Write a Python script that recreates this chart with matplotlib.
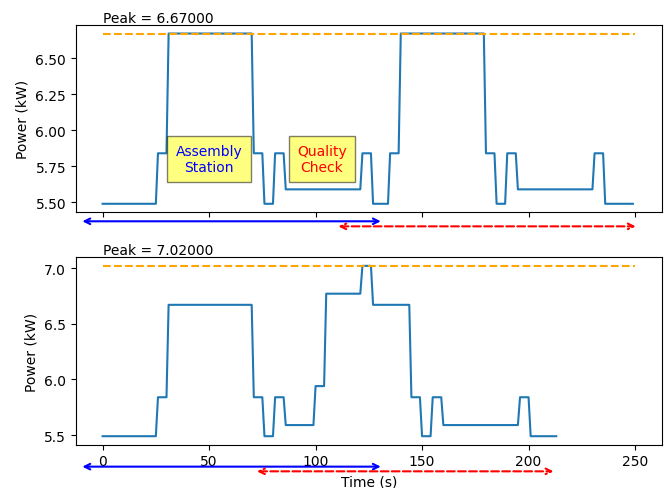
import matplotlib
matplotlib.use("Agg")
import matplotlib.pyplot as plt
import matplotlib.transforms as mtransforms

# line 1 breakpoints (time s, power kW)
top_t = [0, 25, 26, 30, 31, 70, 71, 75, 76, 80, 81, 85, 86, 121, 122, 126, 127,
         134, 135, 139, 140, 179, 180, 184, 185, 189, 190, 194, 195, 230, 231, 235, 236, 249]
top_p = [5.49, 5.49, 5.84, 5.84, 6.67, 6.67, 5.84, 5.84, 5.49, 5.49, 5.84, 5.84, 5.59, 5.59, 5.84, 5.84, 5.49,
         5.49, 5.84, 5.84, 6.67, 6.67, 5.84, 5.84, 5.49, 5.49, 5.84, 5.84, 5.59, 5.59, 5.84, 5.84, 5.49, 5.49]

# line 2 breakpoints
bot_t = [0, 25, 26, 30, 31, 70, 71, 75, 76, 80, 81, 85, 86, 99, 100, 104, 105, 121, 122, 126, 127,
         144, 145, 149, 150, 154, 155, 159, 160, 195, 196, 200, 201, 213]
bot_p = [5.49, 5.49, 5.84, 5.84, 6.67, 6.67, 5.84, 5.84, 5.49, 5.49, 5.84, 5.84, 5.59, 5.59, 5.94, 5.94, 6.77, 6.77, 7.02, 7.02, 6.67,
         6.67, 5.84, 5.84, 5.49, 5.49, 5.84, 5.84, 5.59, 5.59, 5.84, 5.84, 5.49, 5.49]

peak_span = [0, 250]

# station arrows: (start, end) in seconds
top_arrows = [(-9.5, 130.6, "blue", "-"), (110.7, 250.3, "red", "--")]
bot_arrows = [(-9.5, 130.6, "blue", "-"), (72.5, 211.7, "red", "--")]
top_arrow_y = [-0.048, -0.075]
bot_arrow_y = [-0.117, -0.142]

labels = ["Assembly\nStation", "Quality\nCheck"]
label_x = [50, 103]
label_y = 5.8
label_colors = ["blue", "red"]

fig = plt.figure(figsize=(6.67, 4.89), dpi=100)
ax1 = fig.add_axes([0.1139, 0.5638, 0.8781, 0.383])
ax2 = fig.add_axes([0.1139, 0.0885, 0.8781, 0.3832], sharex=ax1)


def draw(ax, t, p, arrows, arrow_y):
    peak = max(p)
    ax.plot(t, p)
    ax.plot(peak_span, [peak, peak], "--", color="orange")
    trans = mtransforms.blended_transform_factory(ax.transData, ax.transAxes)
    ax.text(0, 1.0, "Peak = {:.5f}".format(peak), transform=trans, va="bottom", fontsize=10)
    for (a, b, c, ls), y in zip(arrows, arrow_y):
        ax.annotate("", xy=(b, y), xytext=(a, y), xycoords=trans, textcoords=trans,
                    arrowprops=dict(arrowstyle="<->", color=c, linestyle=ls, lw=1.5,
                                    shrinkA=0, shrinkB=0),
                    annotation_clip=False)
    ax.set_ylabel("Power (kW)")


draw(ax1, top_t, top_p, top_arrows, top_arrow_y)
draw(ax2, bot_t, bot_p, bot_arrows, bot_arrow_y)

for txt, x, c in zip(labels, label_x, label_colors):
    ax1.text(x, label_y, txt, color=c, ha="center", va="center", fontsize=10,
             bbox=dict(facecolor="yellow", alpha=0.5, pad=6))

ax1.tick_params(labelbottom=False)
ax2.set_xlabel("Time (s)")

fig.savefig("out.png", dpi=100)
